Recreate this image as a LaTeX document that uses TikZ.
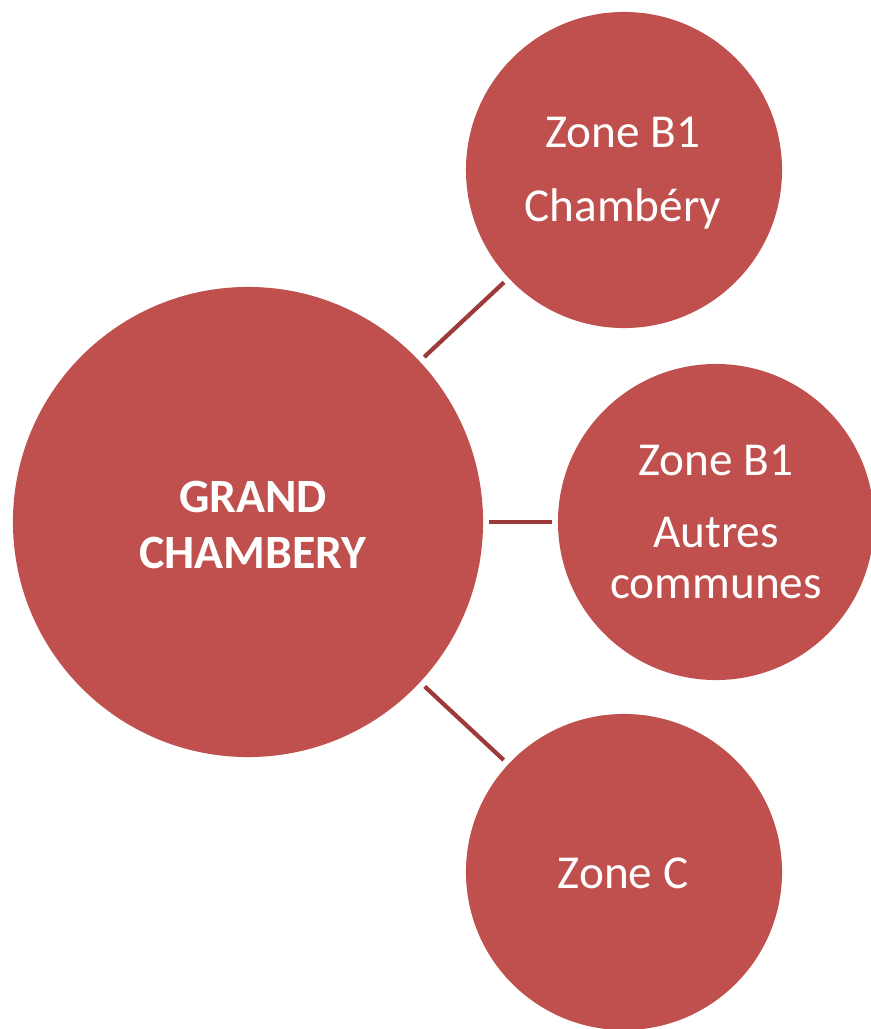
\documentclass[tikz,border=0pt]{standalone}
\usepackage{fontspec}
\setmainfont{Carlito}
\definecolor{zonefill}{RGB}{192,80,77}
\definecolor{zoneline}{RGB}{156,59,57}
\tikzset{
  zone/.style={circle, fill=zonefill, inner sep=0pt, outer sep=0pt},
  zonetext/.style={text=white, anchor=base, inner sep=0pt, font=\fontsize{33.6}{36}\selectfont},
  link/.style={draw=zoneline, line width=3pt, shorten >=4.5pt, shorten <=4.5pt}
}

\begin{document}
\begin{tikzpicture}[x=0.025cm, y=-0.025cm]
			%%%%% START %%%%%
			\useasboundingbox (0, 0) rectangle (870, 1029);
			
			\node[zone, minimum size=11.75cm] (grand) at (248, 522) {};
			\node[zone, minimum size=7.9cm] (chambery) at (624, 170) {};
			\node[zone, minimum size=7.9cm] (autres) at (716, 522) {};
			\node[zone, minimum size=7.9cm] (zonec) at (624, 872) {};
			
			\draw[link] (grand) -- (chambery);
			\draw[link] (grand) -- (autres);
			\draw[link] (grand) -- (zonec);
			
			\node[zonetext, font=\fontsize{34}{36}\bfseries\selectfont] (grandA) at (253, 512) {GRAND};
			\node[zonetext, font=\fontsize{34}{36}\bfseries\selectfont] (grandB) at (253, 568) {CHAMBERY};
			
			\node[zonetext] (chamberyA) at (623, 148) {Zone B1};
			\node[zonetext] (chamberyB) at (623, 222) {Chambéry};
			
			\node[zonetext] (autresA) at (716, 475) {Zone B1};
			\node[zonetext] (autresB) at (716, 547) {Autres};
			\node[zonetext] (autresC) at (716, 598) {communes};
			
			\node[zonetext] (zonecA) at (623, 888) {Zone C};
			%%%%% END %%%%%
\end{tikzpicture}
\end{document}
